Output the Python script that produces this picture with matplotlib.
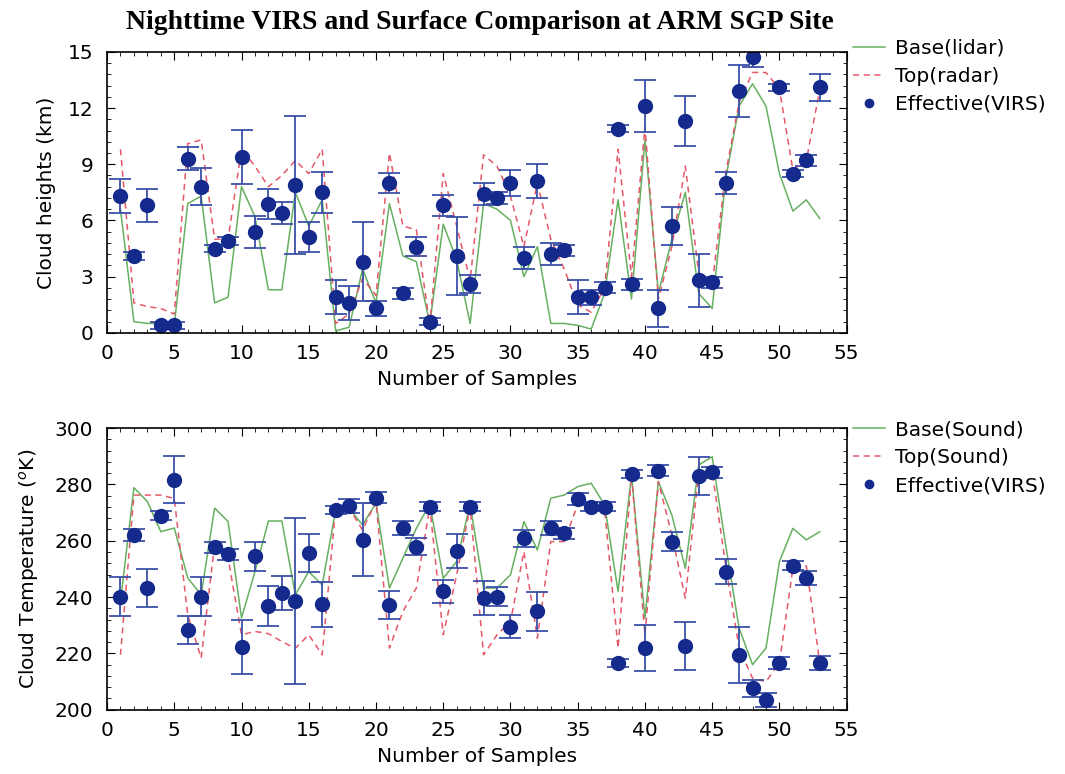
import numpy as np
import matplotlib
matplotlib.use('Agg')
import matplotlib.pyplot as plt
from matplotlib.ticker import MultipleLocator

plt.rcParams['font.family'] = ['DejaVu Sans']
plt.rcParams['mathtext.fontset'] = 'dejavusans'

samples = np.arange(1, 54)

# ---- top panel: cloud heights (km)
base_lidar = [6.6, 0.6, 0.5, 0.5, 0.4, 6.9, 7.3, 1.6, 1.9, 7.8,
              6.2, 2.3, 2.3, 7.5, 5.7, 7.1, 0.1, 0.3, 3.4, 1.6,
              6.9, 4.1, 3.8, 0.5, 5.8, 3.9, 0.5, 6.9, 6.6, 6.0,
              3.0, 4.6, 0.5, 0.5, 0.4, 0.2, 2.1, 7.1, 1.8, 10.3,
              2.1, 5.0, 7.5, 2.1, 1.3, 8.2, 12.1, 13.3, 12.1, 8.5,
              6.5, 7.1, 6.1]
top_radar = [9.8, 1.6, 1.4, 1.3, 1.0, 10.1, 10.3, 5.0, 5.0, 9.8,
             8.9, 7.8, 8.4, 9.2, 8.5, 9.8, 0.5, 1.0, 2.9, 2.0,
             9.6, 5.7, 5.5, 0.4, 8.5, 5.7, 2.8, 9.5, 8.9, 7.3,
             4.6, 8.0, 5.0, 3.4, 1.5, 1.1, 2.4, 9.8, 3.0, 11.0,
             1.8, 4.6, 8.9, 3.2, 2.6, 8.5, 12.3, 13.9, 13.9, 13.0,
             8.7, 9.2, 13.0]
eff_height = [7.3, 4.1, 6.8, 0.4, 0.4, 9.3, 7.8, 4.5, 4.9, 9.4,
              5.4, 6.9, 6.4, 7.9, 5.1, 7.5, 1.9, 1.6, 3.8, 1.3,
              8.0, 2.1, 4.6, 0.6, 6.8, 4.1, 2.6, 7.4, 7.2, 8.0,
              4.0, 8.1, 4.2, 4.4, 1.9, 1.9, 2.4, 10.9, 2.6, 12.1,
              1.3, 5.7, 11.3, 2.8, 2.7, 8.0, 12.9, 14.7, np.nan, 13.1,
              8.5, 9.2, 13.1]
err_height = [0.9, 0.2, 0.9, 0.2, 0.2, 0.6, 1.0, 0.2, 0.2, 1.45,
              0.85, 0.8, 0.6, 3.7, 0.8, 1.1, 0.9, 0.9, 2.1, 0.4,
              0.55, 0.3, 0.5, 0.2, 0.55, 2.1, 0.5, 0.6, 0.3, 0.7,
              0.6, 0.9, 0.6, 0.3, 0.9, 0.4, 0.3, 0.2, 0.3, 1.4,
              1.0, 1.0, 1.35, 1.4, 0.3, 0.6, 1.4, 0.5, np.nan, 0.2,
              0.2, 0.3, 0.7]

# ---- bottom panel: cloud temperature (K)
base_sound = [238.4, 278.8, 273.9, 263.2, 264.5, 246.8, 240.8, 271.6, 266.8, 232.6,
              249.0, 267.0, 267.0, 240.8, 249.0, 244.3, 270.9, 271.5, 265.6, 273.3,
              243.2, 253.8, 264.4, 273.0, 246.7, 252.6, 273.0, 243.2, 243.2, 247.9,
              266.8, 256.7, 275.1, 276.2, 279.2, 280.4, 272.7, 242.0, 283.3, 232.5,
              281.0, 269.1, 250.2, 286.9, 289.8, 258.5, 229.0, 216.0, 221.9, 252.6,
              264.4, 260.3, 263.2]
top_sound = [219.5, 276.2, 276.2, 276.2, 275.0, 233.7, 218.4, 258.5, 253.9, 226.6,
             227.8, 227.0, 224.2, 221.8, 226.6, 219.5, 271.6, 271.5, 263.8, 273.9,
             221.9, 234.9, 243.2, 272.0, 226.6, 247.9, 272.0, 219.5, 226.6, 231.3,
             256.1, 225.4, 259.7, 259.7, 272.9, 272.0, 271.0, 221.9, 283.3, 226.6,
             281.0, 262.0, 239.6, 284.5, 284.5, 251.4, 221.9, 211.2, 210.0, 216.6,
             250.2, 251.0, 216.6]
eff_temp = [240.2, 262.0, 243.2, 268.9, 281.6, 228.4, 240.2, 257.7, 255.2, 222.2,
            254.4, 236.9, 241.4, 238.7, 255.6, 237.5, 270.9, 272.3, 260.3, 275.3,
            237.2, 264.4, 257.9, 272.1, 242.0, 256.4, 272.1, 239.6, 240.2, 229.5,
            260.9, 234.9, 264.4, 262.6, 274.8, 272.1, 272.1, 216.6, 283.6, 221.9,
            284.8, 259.7, 222.5, 283.0, 284.3, 249.0, 219.5, 207.7, 203.5, 216.6,
            251.2, 246.7, 216.6]
err_temp = [7.0, 2.0, 6.7, 1.5, 8.3, 5.0, 7.0, 2.0, 2.0, 9.5,
            5.3, 7.0, 6.0, 29.5, 6.8, 8.0, 1.5, 2.5, 13.0, 2.0,
            5.0, 2.5, 3.0, 1.5, 4.0, 6.0, 1.5, 6.0, 3.5, 4.0,
            3.0, 7.0, 2.5, 2.0, 2.0, 1.5, 1.5, 1.5, 1.5, 8.3,
            2.0, 3.5, 8.5, 6.7, 2.0, 4.5, 10.0, 3.0, 2.5, 2.0,
            1.5, 2.5, 2.5]

green = '#66b060'
red = '#e5586a'
navy = '#142a8c'
errc = '#3b4fa8'
fs = 14.5

fig = plt.figure(figsize=(10.65, 7.74), dpi=100)
ax1 = fig.add_axes([0.1005, 0.570, 0.6945, 0.363])
ax2 = fig.add_axes([0.1005, 0.083, 0.6945, 0.364])


def panel(ax, base, top, eff, err, labels, ylim, ymaj, ymin, ylabel, ypad, legy):
    ax.plot(samples, base, '-', color=green, lw=1.1, label=labels[0])
    ax.plot(samples, top, '--', color=red, lw=1.1, dashes=(4, 3), label=labels[1])
    ax.errorbar(samples, eff, yerr=err, fmt='none', ecolor=errc, elinewidth=1.3,
                capsize=8, capthick=1.3)
    ax.plot(samples, eff, 'o', color=navy, ms=10, label=labels[2])
    ax.set_xlim(0, 55)
    ax.set_ylim(*ylim)
    ax.xaxis.set_major_locator(MultipleLocator(5))
    ax.xaxis.set_minor_locator(MultipleLocator(1))
    ax.yaxis.set_major_locator(MultipleLocator(ymaj))
    ax.yaxis.set_minor_locator(MultipleLocator(ymin))
    ax.tick_params(which='both', direction='in', top=True, right=True, labelsize=fs)
    ax.tick_params(which='major', length=6)
    ax.tick_params(which='minor', length=3)
    ax.tick_params(axis='x', pad=8)
    ax.tick_params(axis='y', pad=10)
    ax.set_xlabel('Number of Samples', fontsize=fs, labelpad=5)
    ax.set_ylabel(ylabel, fontsize=fs, labelpad=ypad)
    for s in ax.spines.values():
        s.set_linewidth(1.2)
    fig.legend(handles=ax.get_legend_handles_labels()[0],
               loc='upper left', bbox_to_anchor=(0.801, legy), frameon=False,
               fontsize=fs, handlelength=1.6, handletextpad=0.5,
               labelspacing=0.45, borderaxespad=0, borderpad=0, markerscale=0.6)


panel(ax1, base_lidar, top_radar, eff_height, err_height,
      ['Base(lidar)', 'Top(radar)', 'Effective(VIRS)'],
      (0, 15), 3, 0.6, 'Cloud heights (km)', 8, 0.950)
panel(ax2, base_sound, top_sound, eff_temp, err_temp,
      ['Base(Sound)', 'Top(Sound)', 'Effective(VIRS)'],
      (200, 300), 20, 4, 'Cloud Temperature ($^o$K)', 10, 0.457)

fig.text(0.451, 0.971, 'Nighttime VIRS and Surface Comparison at ARM SGP Site',
         ha='center', va='center', fontsize=20, fontweight='bold',
         family='Liberation Serif')

fig.savefig('out.png', dpi=100)
